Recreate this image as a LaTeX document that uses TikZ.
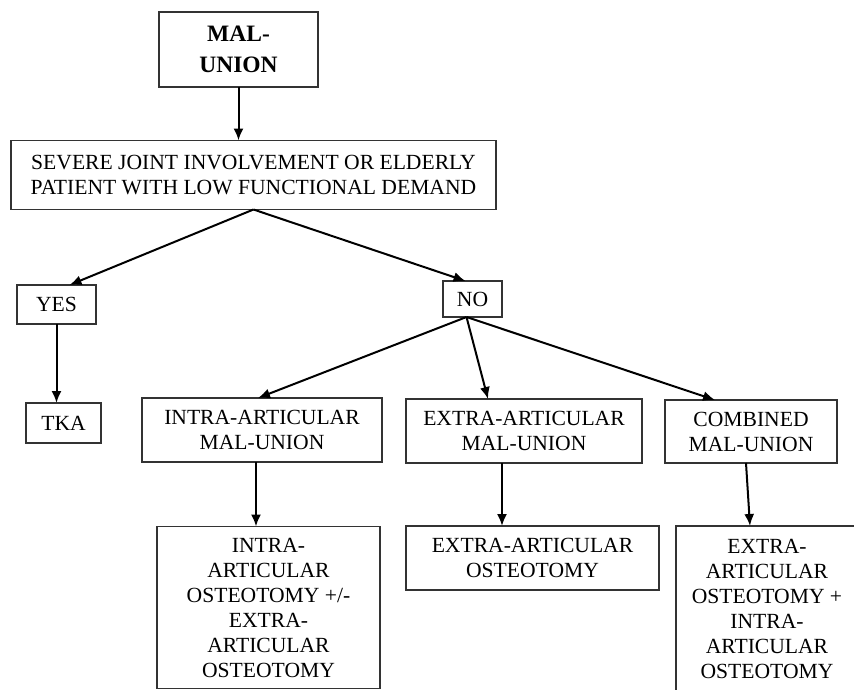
\documentclass[tikz,border=0pt]{standalone}
\usepackage{fontspec}
\setmainfont{Liberation Serif}
\usetikzlibrary{arrows.meta}

\begin{document}
\begin{tikzpicture}[x=1pt,y=-1pt,->,>={Latex[length=12pt,width=10pt]},line width=2pt,
  box/.style={draw=black!80,line width=1.5pt,inner sep=0pt,outer sep=0pt,align=center,font=\fontsize{21.6}{25}\selectfont}]

  \useasboundingbox (0,0) rectangle (854,689);

  \node[box,minimum width=159pt,minimum height=75pt,font=\fontsize{23.5}{31.5}\selectfont\bfseries] (mal) at (238.5,49.5) {MAL-\\UNION};
  \node[box,minimum width=485pt,minimum height=69pt] (severe) at (253.5,175) {SEVERE JOINT INVOLVEMENT OR ELDERLY\\PATIENT WITH LOW FUNCTIONAL DEMAND};

  \node[box,minimum width=79pt,minimum height=39pt] (yes) at (56.5,304.5) {YES};
  \node[box,minimum width=59pt,minimum height=36pt] (no) at (472.5,299) {NO};
  \node[box,minimum width=75pt,minimum height=40pt] (tka) at (63.5,423) {TKA};

  \node[box,minimum width=240pt,minimum height=64pt] (intra) at (262,430) {INTRA-ARTICULAR\\MAL-UNION};
  \node[box,minimum width=236pt,minimum height=64pt] (extra) at (524,431) {EXTRA-ARTICULAR\\MAL-UNION};
  \node[box,minimum width=172pt,minimum height=63pt] (comb) at (751,431.5) {COMBINED\\MAL-UNION};

  \node[box,minimum width=223pt,minimum height=162pt] (intraost) at (268.5,607.5) {INTRA-\\ARTICULAR\\OSTEOTOMY +/-\\EXTRA-\\ARTICULAR\\OSTEOTOMY};
  \node[box,minimum width=253pt,minimum height=64pt] (extraost) at (532.5,558) {EXTRA-ARTICULAR\\OSTEOTOMY};
  \node[box,minimum width=182pt,minimum height=166pt] (combost) at (767,609) {EXTRA-\\ARTICULAR\\OSTEOTOMY +\\INTRA-\\ARTICULAR\\OSTEOTOMY};

  \path
    (mal.south) edge (mal.south |- severe.north)
    (severe.south) edge ([xshift=13pt]yes.north)
    (severe.south) edge ([xshift=-7pt]no.north)
    (yes.south) edge (yes.south |- tka.north)
    ([xshift=-6pt]no.south) edge ([xshift=-4pt]intra.north)
    ([xshift=-6pt]no.south) edge ([xshift=-36pt]extra.north)
    ([xshift=-6pt]no.south) edge ([xshift=-36pt]comb.north)
    ([xshift=-6pt]intra.south) edge ([xshift=-6pt]intra.south |- intraost.north)
    ([xshift=-22pt]extra.south) edge ([xshift=-22pt]extra.south |- extraost.north)
    ([xshift=-5pt]comb.south) edge ([xshift=-17pt]combost.north)
    ;
\end{tikzpicture}
\end{document}
